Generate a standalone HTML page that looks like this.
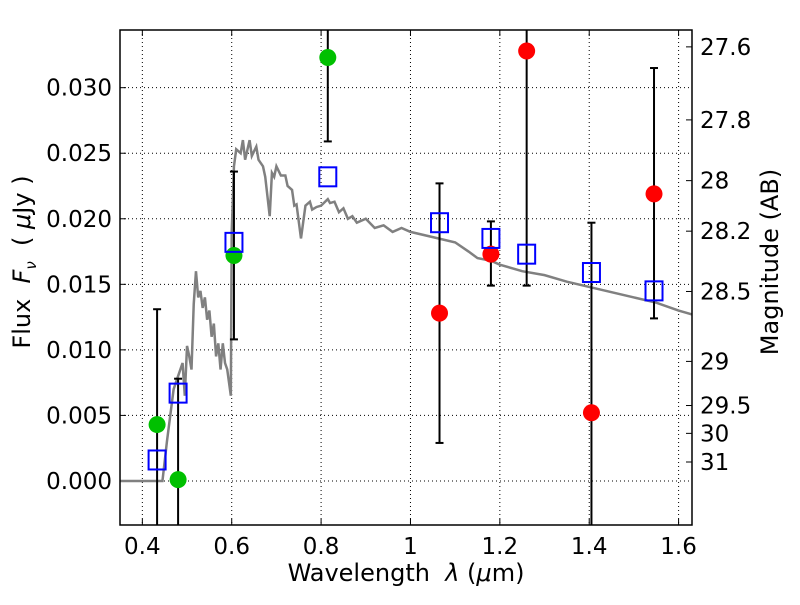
<!DOCTYPE html>
<html><head><meta charset="utf-8"><style>body{margin:0;background:#fff}svg{font-family:"DejaVu Sans","Liberation Sans",sans-serif}</style></head>
<body>
<svg id="c" width="800" height="600"></svg>
<script>
const xTicks=[0.4,0.6,0.8,1,1.2,1.4,1.6];
const xTickLabels=["0.4","0.6","0.8","1","1.2","1.4","1.6"];
const yTicks=[0,0.005,0.010,0.015,0.020,0.025,0.030];
const yTickLabels=["0.000","0.005","0.010","0.015","0.020","0.025","0.030"];
const magTicks=[27.6,27.8,28,28.2,28.5,29,29.5,30,31];
const magTickLabels=["27.6","27.8","28","28.2","28.5","29","29.5","30","31"];
const greenX=[0.433,0.48,0.605,0.815];
const greenY=[0.0043,0.0001,0.0172,0.0323];
const greenLo=[-1,-1,0.0108,0.0259];
const greenHi=[0.0131,0.0078,0.0236,1];
const redX=[1.065,1.18,1.26,1.405,1.545];
const redY=[0.0128,0.0173,0.0328,0.0052,0.0219];
const redLo=[0.0029,0.0149,0.0149,-1,0.0124];
const redHi=[0.0227,0.0198,1,0.0197,0.0315];
const modelX=[0.433,0.48,0.605,0.815,1.065,1.18,1.26,1.405,1.545];
const modelY=[0.0016,0.0067,0.0182,0.0232,0.0197,0.0185,0.0173,0.0159,0.0145];
const sedX=[0.35,0.445,0.455,0.47,0.48,0.49,0.495,0.50,0.505,0.51,0.515,0.52,0.525,0.53,0.535,0.54,0.545,0.55,0.555,0.56,0.565,0.57,0.575,0.58,0.585,0.59,0.598,0.60,0.605,0.61,0.62,0.625,0.63,0.64,0.645,0.655,0.66,0.67,0.675,0.685,0.69,0.695,0.70,0.71,0.72,0.725,0.735,0.74,0.745,0.755,0.765,0.775,0.78,0.79,0.80,0.815,0.82,0.83,0.84,0.85,0.86,0.87,0.88,0.90,0.92,0.94,0.96,0.98,1.0,1.05,1.10,1.13,1.15,1.18,1.20,1.25,1.30,1.35,1.40,1.45,1.50,1.55,1.60,1.63];
const sedY=[0,0,0.003,0.007,0.008,0.009,0.0065,0.0103,0.0095,0.0085,0.0135,0.016,0.014,0.0145,0.0132,0.014,0.0123,0.013,0.011,0.012,0.0095,0.0105,0.0085,0.0105,0.009,0.0085,0.0065,0.019,0.024,0.0253,0.025,0.026,0.0245,0.026,0.0248,0.0255,0.0245,0.024,0.0232,0.0202,0.0235,0.0232,0.024,0.0233,0.0233,0.0225,0.0222,0.021,0.0211,0.0185,0.021,0.0213,0.0207,0.0209,0.021,0.0215,0.0212,0.0213,0.0205,0.0208,0.02,0.0202,0.0197,0.02,0.0193,0.0195,0.019,0.0193,0.019,0.0186,0.0182,0.0175,0.017,0.0168,0.0165,0.016,0.0157,0.0152,0.0148,0.0144,0.014,0.0136,0.013,0.0127];
const L=120,R=692,T=30,B=525,x0=0.35,x1=1.63,y0=-0.00336,y1=0.0344;
const sx=v=>L+(v-x0)/(x1-x0)*(R-L);
const sy=v=>B-(v-y0)/(y1-y0)*(B-T);
const cy=v=>Math.max(T,Math.min(B,sy(v)));
const magY=m=>sy(Math.pow(10,(23.9-m)/2.5));
const svg=document.getElementById('c');const NS='http://www.w3.org/2000/svg';
function mk(t,a,p){const e=document.createElementNS(NS,t);for(const k in a)e.setAttribute(k,a[k]);(p||svg).appendChild(e);return e;}
const FS=23;
const grid=mk('g',{});


xTicks.forEach((v,i)=>{const X=sx(v);mk('line',{x1:X,x2:X,y1:T,y2:B,stroke:'#000','stroke-dasharray':'1,3','stroke-width':1},grid);
mk('line',{x1:X,x2:X,y1:B,y2:B-6,stroke:'#000'});mk('line',{x1:X,x2:X,y1:T,y2:T+6,stroke:'#000'});
const t=mk('text',{x:X,y:B+29,'font-size':FS,'text-anchor':'middle'});t.textContent=xTickLabels[i];

});
yTicks.forEach((v,i)=>{const Y=sy(v);mk('line',{x1:L,x2:R,y1:Y,y2:Y,stroke:'#000','stroke-dasharray':'1,3','stroke-width':1},grid);
mk('line',{x1:L,x2:L+6,y1:Y,y2:Y,stroke:'#000'});
const t=mk('text',{x:L-8,y:Y+8,'font-size':FS,'text-anchor':'end'});t.textContent=yTickLabels[i];

});
magTicks.forEach((m,i)=>{const Y=magY(m);mk('line',{x1:R,x2:R-6,y1:Y,y2:Y,stroke:'#000'});
const t=mk('text',{x:R+8,y:Y+8,'font-size':FS});t.textContent=magTickLabels[i];

});
const sed=mk('polyline',{points:sedX.map((v,i)=>sx(v)+','+sy(sedY[i])).join(' '),fill:'none',stroke:'#808080','stroke-width':2.5});


function pts(X,Y,Lo,Hi,col,name){X.forEach((v,i)=>{const px=sx(v);
const e=mk('line',{x1:px,x2:px,y1:cy(Lo[i]),y2:cy(Hi[i]),stroke:'#000','stroke-width':2});


if(Lo[i]>y0)mk('line',{x1:px-4,x2:px+4,y1:sy(Lo[i]),y2:sy(Lo[i]),stroke:'#000','stroke-width':2});
if(Hi[i]<y1)mk('line',{x1:px-4,x2:px+4,y1:sy(Hi[i]),y2:sy(Hi[i]),stroke:'#000','stroke-width':2});});
X.forEach((v,i)=>{const c=mk('circle',{cx:sx(v),cy:sy(Y[i]),r:8.5,fill:col});

});}
pts(greenX,greenY,greenLo,greenHi,'#00c000','green-photometry');
pts(redX,redY,redLo,redHi,'#ff0000','red-photometry');
modelX.forEach((v,i)=>{const r=mk('rect',{x:sx(v)-8.5,y:sy(modelY[i])-9.5,width:17,height:19,fill:'none',stroke:'#0000ff','stroke-width':2});

});
const fr=mk('rect',{x:L,y:T,width:R-L,height:B-T,fill:'none',stroke:'#000','stroke-width':1.5});


</script>
<div style="position:absolute;left:0;top:0;width:800px;height:600px;pointer-events:none;font-family:'DejaVu Sans','Liberation Sans',sans-serif;font-size:24px">
<div style="position:absolute;left:206px;width:400px;text-align:center;top:559px;white-space:nowrap">Wavelength&nbsp; <i>λ</i> (<i>μ</i>m)</div>
<div style="position:absolute;left:-108px;top:248px;width:260px;height:28px;text-align:center;white-space:nowrap;transform:rotate(-90deg)">Flux&nbsp; <i>F<sub style="font-size:15px">ν</sub></i>&nbsp; ( <i>μ</i>Jy )</div>
<div style="position:absolute;left:640px;top:248px;width:260px;height:28px;text-align:center;white-space:nowrap;transform:rotate(-90deg)">Magnitude (AB)</div>
</div>
</body></html>
